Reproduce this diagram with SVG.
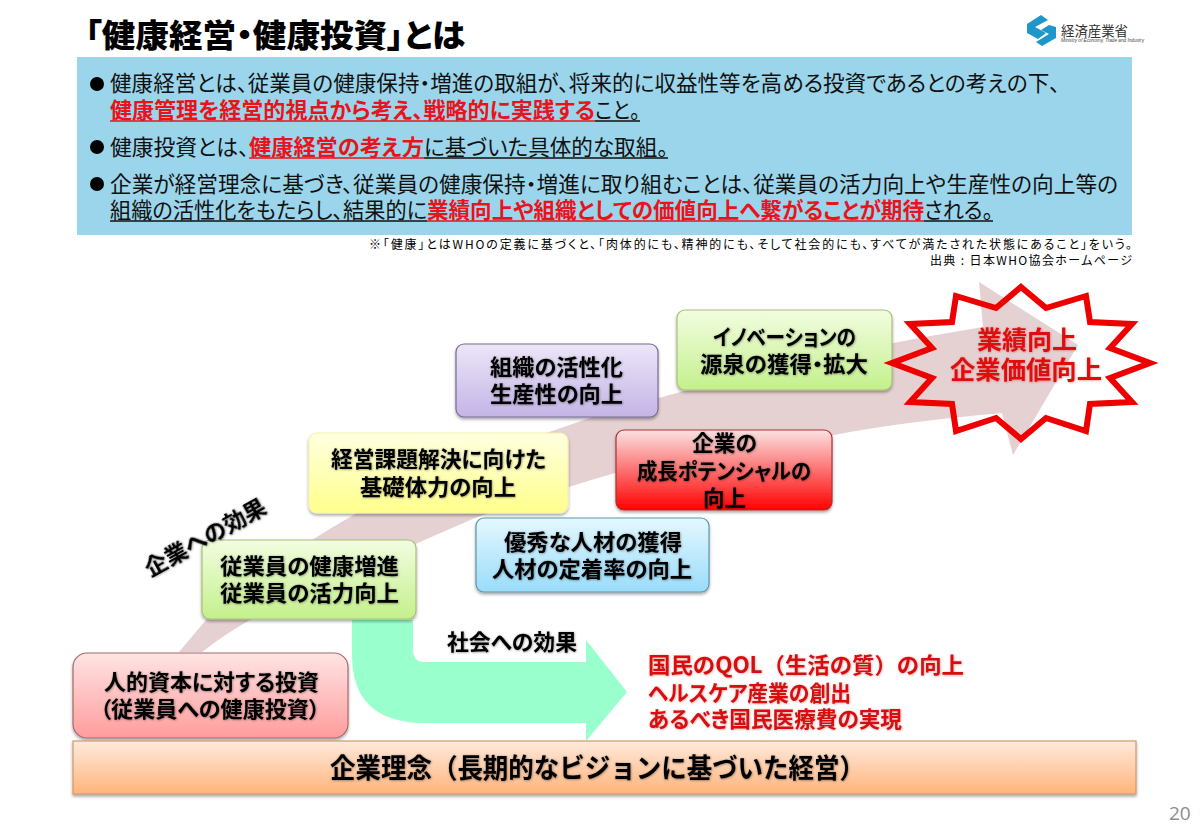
<svg xmlns="http://www.w3.org/2000/svg" width="1200" height="831" viewBox="0 0 1200 831">
<style>
text{font-family:"Noto Sans CJK JP","Noto Sans",sans-serif;fill:#000;font-feature-settings:"palt"}
.b{font-size:22px;fill:#111}
.r{font-size:22px;font-weight:700;fill:#e8141c}
.n{font-size:22px;font-weight:700;filter:url(#ts)}
.red{font-size:22px;font-weight:700;fill:#d81010;filter:url(#tr)}
.s{font-size:25px;font-weight:700;fill:#e01010;filter:url(#tr)}
.f{font-feature-settings:normal}
.u{stroke:#111;stroke-width:1.3}
.ur{stroke:#e8141c;stroke-width:1.6}
.box{filter:url(#sh);stroke-width:1.2}
</style>
<defs>
<filter id="sh" x="-5%" y="-5%" width="110%" height="115%"><feDropShadow dx="0" dy="2" stdDeviation="1.5" flood-color="#000" flood-opacity=".35"/></filter>
<filter id="ts" x="-5%" y="-15%" width="110%" height="130%"><feDropShadow dx="0.5" dy="0.5" stdDeviation="0.9" flood-color="#000" flood-opacity=".45"/></filter>
<filter id="tr" x="-5%" y="-15%" width="110%" height="130%"><feDropShadow dx="0.5" dy="0.5" stdDeviation="0.9" flood-color="#a00" flood-opacity=".4"/></filter>
<linearGradient id="gPink" x1="0" y1="0" x2="0" y2="1"><stop offset="0" stop-color="#ffe4e4"/><stop offset="1" stop-color="#ff9c9c"/></linearGradient>
<linearGradient id="gLime" x1="0" y1="0" x2="0" y2="1"><stop offset="0" stop-color="#f2fde0"/><stop offset="1" stop-color="#c4f08c"/></linearGradient>
<linearGradient id="gYel" x1="0" y1="0" x2="0" y2="1"><stop offset="0" stop-color="#ffffe0"/><stop offset="1" stop-color="#ffff8c"/></linearGradient>
<linearGradient id="gPur" x1="0" y1="0" x2="0" y2="1"><stop offset="0" stop-color="#ece6f8"/><stop offset="1" stop-color="#c4b4e6"/></linearGradient>
<linearGradient id="gBlu" x1="0" y1="0" x2="0" y2="1"><stop offset="0" stop-color="#e4f8ff"/><stop offset="1" stop-color="#9adcfa"/></linearGradient>
<linearGradient id="gRed" x1="0" y1="0" x2="0" y2="1"><stop offset="0" stop-color="#fbe2e2"/><stop offset="1" stop-color="#ff0000"/></linearGradient>
<linearGradient id="gOra" x1="0" y1="0" x2="0" y2="1"><stop offset="0" stop-color="#ffeadc"/><stop offset="1" stop-color="#ffb47c"/></linearGradient>
</defs>
<rect width="1200" height="831" fill="#fff"/>

<g id="title"><text x="85" y="47" font-size="32" font-weight="900" textLength="380" lengthAdjust="spacingAndGlyphs">「健康経営・健康投資」とは</text></g>

<g id="logo">
<polygon points="1027,24 1041,15 1048,20 1035,27 1046,33 1038,39 1027,33" fill="#1e96c8"/>
<polygon points="1056,27 1056,38 1042,46 1036,42 1049,34 1041,30 1049,25" fill="#1e96c8"/>
<text x="1061" y="35.500" font-size="13.5" style="fill:#333" textLength="67" lengthAdjust="spacingAndGlyphs">経済産業省</text>
<text x="1061" y="42" font-size="5" font-style="italic" style="fill:#444;font-family:'Liberation Sans',sans-serif" textLength="83" lengthAdjust="spacingAndGlyphs">Ministry of Economy, Trade and Industry</text>
</g>

<g id="summary">
<rect x="77" y="57" width="1055" height="178" fill="#9bd5eb"/>
<circle cx="97" cy="84" r="7"/><circle cx="97" cy="147" r="7"/><circle cx="97" cy="184" r="7"/>
<text class="b" x="110" y="91" textLength="950" lengthAdjust="spacingAndGlyphs">健康経営とは、従業員の健康保持・増進の取組が、将来的に収益性等を高める投資であるとの考えの下、</text>
<text class="r" x="110" y="118" textLength="485" lengthAdjust="spacingAndGlyphs">健康管理を経営的視点から考え、戦略的に実践する</text>
<text class="b" x="595" y="118" textLength="45" lengthAdjust="spacingAndGlyphs">こと。</text>
<line class="ur" x1="110" y1="121" x2="595" y2="121"/><line class="u" x1="595" y1="121" x2="640" y2="121"/>
<text class="b" x="110" y="155" textLength="139" lengthAdjust="spacingAndGlyphs">健康投資とは、</text>
<text class="r" x="249" y="155" textLength="175" lengthAdjust="spacingAndGlyphs">健康経営の考え方</text>
<text class="b" x="424" y="155" textLength="244" lengthAdjust="spacingAndGlyphs">に基づいた具体的な取組。</text>
<line class="ur" x1="249" y1="158" x2="424" y2="158"/><line class="u" x1="424" y1="158" x2="668" y2="158"/>
<text class="b" x="110" y="192" textLength="1008" lengthAdjust="spacingAndGlyphs">企業が経営理念に基づき、従業員の健康保持・増進に取り組むことは、従業員の活力向上や生産性の向上等の</text>
<text class="b" x="110" y="218" textLength="317" lengthAdjust="spacingAndGlyphs">組織の活性化をもたらし、結果的に</text>
<text class="r" x="427" y="218" textLength="497" lengthAdjust="spacingAndGlyphs">業績向上や組織としての価値向上へ繋がることが期待</text>
<text class="b" x="924" y="218" textLength="69" lengthAdjust="spacingAndGlyphs">される。</text>
<line class="u" x1="110" y1="221" x2="427" y2="221"/><line class="ur" x1="427" y1="221" x2="924" y2="221"/><line class="u" x1="924" y1="221" x2="993" y2="221"/>
</g>

<g id="notes">
<text x="369" y="249" font-size="12" textLength="763">※「健康」とはWHOの定義に基づくと、「肉体的にも、精神的にも、そして社会的にも、すべてが満たされた状態にあること」をいう。</text>
<text x="930" y="265" font-size="12" textLength="202">出典 : 日本WHO協会ホームページ</text>
</g>

<g id="connectors">
<path id="growth-arrow" fill="#e5d0d2" d="M179,652 L206,620 Q265,565 357,513 Q450,465 590,418 Q780,360 983,327 L979,282 L1078,345 L1013,455 L1002,413 Q900,422 834,435 Q720,452 615,473 Q540,495 475,518 Q350,572 250,620 Q225,634 202,652 Z"/>
<path id="society-arrow" fill="#99ffcc" d="M352,620 L413,620 L413,650 Q413,662 424,662 L586,662 L586,640 L627,692 L586,741 L586,723 L425,723 Q352,723 352,655 Z"/>
</g>

<g id="node-investment"><rect class="box" x="73" y="653" width="275" height="85" rx="14" fill="url(#gPink)" stroke="#a86a6a"/>
<text class="n" x="104" y="690" textLength="215" lengthAdjust="spacingAndGlyphs">人的資本に対する投資</text><text class="n" x="100" y="717" textLength="220" lengthAdjust="spacingAndGlyphs">（従業員への健康投資）</text></g>
<g id="node-employee"><rect class="box" x="202" y="540" width="214" height="79" rx="8" fill="url(#gLime)" stroke="#a8c078"/>
<text class="n" x="220" y="574" textLength="179" lengthAdjust="spacingAndGlyphs">従業員の健康増進</text><text class="n" x="220" y="601" textLength="179" lengthAdjust="spacingAndGlyphs">従業員の活力向上</text></g>
<g id="node-basic"><rect class="box" x="309" y="433" width="259" height="80" rx="8" fill="url(#gYel)" stroke="#f4f4b0"/>
<text class="n" x="331" y="467" textLength="215" lengthAdjust="spacingAndGlyphs">経営課題解決に向けた</text><text class="n" x="360" y="495" textLength="156" lengthAdjust="spacingAndGlyphs">基礎体力の向上</text></g>
<g id="node-org"><rect class="box" x="456" y="344" width="202" height="73" rx="8" fill="url(#gPur)" stroke="#7a6a94"/>
<text class="n" x="490" y="375" textLength="133" lengthAdjust="spacingAndGlyphs">組織の活性化</text><text class="n" x="490" y="402" textLength="133" lengthAdjust="spacingAndGlyphs">生産性の向上</text></g>
<g id="node-innovation"><rect class="box" x="677" y="310" width="215" height="80" rx="8" fill="url(#gLime)" stroke="#a8c078"/>
<text class="n" x="713" y="345" textLength="143" lengthAdjust="spacingAndGlyphs">イノベーションの</text><text class="n" x="700" y="372" textLength="168" lengthAdjust="spacingAndGlyphs">源泉の獲得・拡大</text></g>
<g id="node-potential"><rect class="box" x="616" y="430" width="216" height="80" rx="8" fill="url(#gRed)" stroke="#b03030"/>
<text class="n" x="692" y="451" textLength="65" lengthAdjust="spacingAndGlyphs">企業の</text><text class="n" x="637" y="479" textLength="174" lengthAdjust="spacingAndGlyphs">成長ポテンシャルの</text><text class="n" x="703" y="506" textLength="43" lengthAdjust="spacingAndGlyphs">向上</text></g>
<g id="node-talent"><rect class="box" x="476" y="518" width="233" height="74" rx="8" fill="url(#gBlu)" stroke="#5a96aa"/>
<text class="n" x="504" y="550" textLength="178" lengthAdjust="spacingAndGlyphs">優秀な人材の獲得</text><text class="n" x="492" y="577" textLength="200" lengthAdjust="spacingAndGlyphs">人材の定着率の向上</text></g>
<g id="node-philosophy"><rect class="box" x="73" y="741" width="1063" height="53" fill="url(#gOra)" stroke="#d09a6a"/>
<text class="n f" x="330" y="778" style="font-size:27px" textLength="535" lengthAdjust="spacingAndGlyphs">企業理念（長期的なビジョンに基づいた経営）</text></g>
<g id="node-result"><polygon fill="none" stroke="#ee0000" stroke-width="6" stroke-linejoin="miter" stroke-miterlimit="10" points="1021,287 1046,308 1086,296 1090,322 1132,324 1110,348 1150,363 1110,378 1132,402 1090,404 1086,431 1046,418 1021,439 996,418 956,431 952,404 910,402 932,378 892,363 932,348 910,324 952,322 956,296 996,308"/>
<text class="s" x="977" y="349" textLength="100" lengthAdjust="spacingAndGlyphs">業績向上</text><text class="s" x="950" y="379" textLength="152" lengthAdjust="spacingAndGlyphs">企業価値向上</text></g>

<g id="label-company"><text class="n" transform="translate(150,577) rotate(-29)" textLength="135" lengthAdjust="spacingAndGlyphs">企業への効果</text></g>
<g id="label-society"><text class="n" x="447" y="650" textLength="130" lengthAdjust="spacingAndGlyphs">社会への効果</text></g>
<g id="outcomes">
<text class="red f" x="648" y="673" textLength="316" lengthAdjust="spacingAndGlyphs">国民のQOL（生活の質）の向上</text>
<text class="red" x="648" y="701" textLength="203" lengthAdjust="spacingAndGlyphs">ヘルスケア産業の創出</text>
<text class="red" x="648" y="727" textLength="254" lengthAdjust="spacingAndGlyphs">あるべき国民医療費の実現</text>
</g>
<g id="page"><text x="1169" y="820" font-size="19" style="fill:#8c8c8c;font-family:'Open Sans',sans-serif">20</text></g>
</svg>
